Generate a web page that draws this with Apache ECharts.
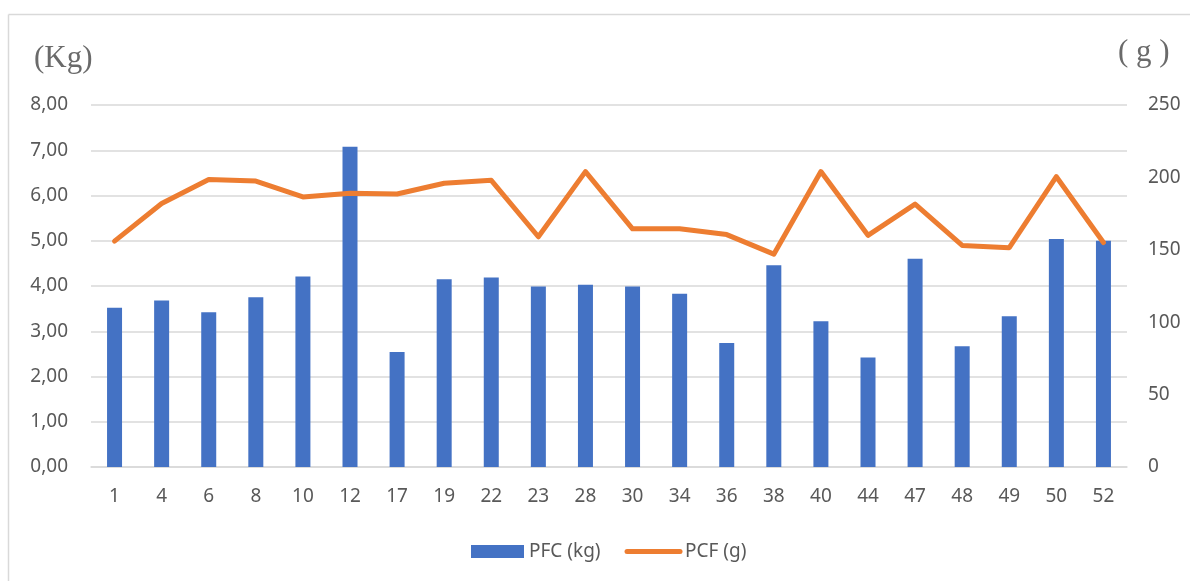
<!DOCTYPE html>
<html>
<head>
<meta charset="utf-8">
<script src="https://cdn.jsdelivr.net/npm/echarts@6/dist/echarts.min.js"></script>
<style>
  html, body { margin: 0; padding: 0; background: #fff; }
  #chart { width: 1190px; height: 581px; }
</style>
</head>
<body>
<div id="chart"></div>
<script>
// Sample identifiers along the x axis
const categories = ['1','4','6','8','10','12','17','19','22','23','28','30','34','36','38','40','44','47','48','49','50','52'];
// PFC per sample, kilograms (left axis)
const pfcKg = [3.52,3.68,3.42,3.75,4.21,7.08,2.54,4.15,4.19,3.99,4.03,3.99,3.83,2.74,4.46,3.22,2.42,4.60,2.67,3.33,5.04,5.00];
// PCF per sample, grams (right axis)
const pcfG = [156,182,198.5,197.5,186.5,189,188.5,196,198,159,204,164.5,164.5,160.5,147,204,160,181.5,153,151.5,200.5,155];
const leftTicks = { min: 0, max: 8, interval: 1 };
const rightTicks = { min: 0, max: 250, interval: 50 };

const textColor = '#595959';
const labelFont = '"Noto Sans", "Open Sans", sans-serif';

const chart = echarts.init(document.getElementById('chart'));
chart.setOption({
  animation: false,
  backgroundColor: '#ffffff',
  grid: { left: 91, right: 63, top: 105, bottom: 114 },
  legend: {
    bottom: 15,
    left: 466,
    itemWidth: 53,
    itemHeight: 13,
    itemGap: 24,
    textStyle: { color: textColor, fontSize: 19, fontFamily: labelFont },
    data: [
      { name: 'PFC (kg)', icon: 'rect' },
      { name: 'PCF (g)', itemStyle: { opacity: 0 }, lineStyle: { width: 5, cap: 'round' } }
    ]
  },
  xAxis: {
    type: 'category',
    data: categories,
    axisTick: { show: false },
    axisLine: { lineStyle: { color: '#d9d9d9', width: 1.5 } },
    axisLabel: { color: textColor, fontSize: 19, fontFamily: labelFont, margin: 20 }
  },
  yAxis: [
    {
      type: 'value',
      min: leftTicks.min, max: leftTicks.max, interval: leftTicks.interval,
      axisLine: { show: false },
      axisTick: { show: false },
      splitLine: { lineStyle: { color: '#d9d9d9', width: 1.5 } },
      axisLabel: {
        color: textColor, fontSize: 19, fontFamily: labelFont, margin: 23,
        formatter: v => v.toFixed(2).replace('.', ',')
      }
    },
    {
      type: 'value',
      min: rightTicks.min, max: rightTicks.max, interval: rightTicks.interval,
      axisLine: { show: false },
      axisTick: { show: false },
      splitLine: { show: false },
      axisLabel: { color: textColor, fontSize: 19, fontFamily: labelFont, margin: 21 }
    }
  ],
  series: [
    {
      name: 'PFC (kg)',
      type: 'bar',
      yAxisIndex: 0,
      data: pfcKg,
      barWidth: 15,
      itemStyle: { color: '#4472C4' }
    },
    {
      name: 'PCF (g)',
      type: 'line',
      yAxisIndex: 1,
      data: pcfG,
      symbol: 'none',
      lineStyle: { color: '#ED7D31', width: 5, cap: 'round', join: 'round' },
      itemStyle: { color: '#ED7D31' }
    }
  ],
  graphic: [
    // frame lines along the top and left of the chart area
    { type: 'line', shape: { x1: 8.5, y1: 14.5, x2: 1190, y2: 14.5 }, style: { stroke: '#d9d9d9', lineWidth: 1.5 } },
    { type: 'line', shape: { x1: 8.5, y1: 14.5, x2: 8.5, y2: 581 }, style: { stroke: '#d9d9d9', lineWidth: 1.5 } },
    // axis unit titles
    { type: 'text', left: 34, top: 43, style: { text: '(Kg)', fill: '#6a6a6a', font: '31px "Liberation Serif", "DejaVu Serif", serif' } },
    { type: 'text', left: 1118, top: 37, style: { text: '( g )', fill: '#6a6a6a', font: '31px "Liberation Serif", "DejaVu Serif", serif' } }
  ]
});
</script>
</body>
</html>
